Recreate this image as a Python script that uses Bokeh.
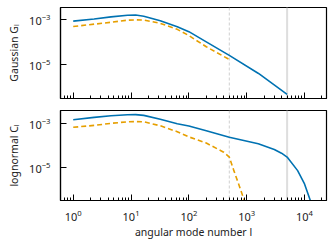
from bokeh.plotting import figure
from bokeh.layouts import column
from bokeh.models import Span, FixedTicker, LogTicker, Range1d, CustomJSTickFormatter
from bokeh.embed import file_html
from bokeh.resources import INLINE

# angular mode numbers and spectra
l_gauss_g = [1, 2.3, 4.5, 8.7, 12, 16.6, 32, 63, 100, 200, 500, 1600, 5000]
gauss_g = [8.9e-4, 1.11e-3, 1.38e-3, 1.62e-3, 1.66e-3, 1.48e-3, 9.3e-4, 5.0e-4,
           3.0e-4, 1.05e-4, 2.6e-5, 4.0e-6, 4.6e-7]
l_gauss_o = [1, 2.3, 4.5, 8.7, 12, 16.6, 32, 63, 100, 200, 500]
gauss_o = [5.1e-4, 6.5e-4, 7.9e-4, 9.8e-4, 1.01e-3, 1.0e-3, 7.1e-4, 3.8e-4,
           2.0e-4, 6.3e-5, 1.7e-5]

l_logn_b = [1, 2.3, 4.5, 8.7, 12, 16.6, 32, 63, 100, 200, 500, 1585, 3000,
            4000, 5000, 7600, 10000, 12600, 14000]
logn_b = [1.41e-3, 1.82e-3, 2.14e-3, 2.4e-3, 2.42e-3, 2.24e-3, 1.51e-3, 9.3e-4,
          7.4e-4, 4.5e-4, 2.3e-4, 1.17e-4, 6.5e-5, 4.4e-5, 2.95e-5, 7.2e-6,
          1.8e-6, 3.2e-7, 5e-8]
l_logn_o = [1, 2.3, 4.5, 8.7, 12, 16.6, 32, 63, 100, 200, 400, 500, 600, 740,
            910, 1000]
logn_o = [6.5e-4, 7.9e-4, 9.8e-4, 1.15e-3, 1.17e-3, 1.15e-3, 7.6e-4, 4.1e-4,
          2.4e-4, 1.26e-4, 4.9e-5, 2.95e-5, 7.2e-6, 1.55e-6, 3.2e-7, 1.3e-7]

l_cut_dashed = 500
l_cut_solid = 5000
y_ticks = [1e-5, 1e-3]
x_label = "angular mode number l"
y_label_top = "Gaussian G\u2097"
y_label_bot = "lognormal C\u2097"

BLUE = "#0072B2"
ORANGE = "#E69F00"
FONT = "Noto Sans"
TXT = "#222222"

x_range = Range1d(10 ** -0.22, 10 ** 4.38)


def make_fig(height, ylo, yhi, ylabel, show_xlabels, mt, mb):
    p = figure(width=328, height=height, x_axis_type="log", y_axis_type="log",
               x_range=x_range, y_range=Range1d(ylo, yhi),
               output_backend="svg", toolbar_location=None,
               min_border_left=60, min_border_right=2, min_border_top=mt,
               min_border_bottom=mb)
    p.grid.visible = False
    p.outline_line_color = "black"
    p.outline_line_width = 1.2
    p.background_fill_color = "white"
    p.border_fill_color = "white"
    for ax in (p.xaxis[0], p.yaxis[0]):
        ax.axis_line_color = "black"
        ax.axis_line_width = 1.2
        ax.major_tick_line_color = "black"
        ax.minor_tick_line_color = "black"
        ax.major_tick_in = 6
        ax.major_tick_out = 0
        ax.minor_tick_in = 3
        ax.minor_tick_out = 0
        ax.major_label_text_font = FONT
        ax.major_label_text_color = TXT
        ax.axis_label_text_font = FONT
        ax.axis_label_text_color = TXT
        ax.axis_label_text_font_style = "normal"
        ax.axis_label_text_font_size = "10.5px"
    p.yaxis[0].ticker = FixedTicker(ticks=y_ticks, minor_ticks=[])
    p.yaxis[0].major_label_text_font_size = "11px"
    p.yaxis[0].major_label_standoff = 10
    p.yaxis[0].axis_label = ylabel
    p.yaxis[0].axis_label_standoff = 5
    p.xaxis[0].ticker = LogTicker(num_minor_ticks=10)
    if show_xlabels:
        p.xaxis[0].major_label_text_font_size = "11px"
        p.xaxis[0].major_label_standoff = 9
        p.xaxis[0].axis_label = x_label
        p.xaxis[0].axis_label_standoff = 1
    else:
        p.xaxis[0].formatter = CustomJSTickFormatter(code="return ''")
        p.xaxis[0].major_label_standoff = 0
    p.add_layout(Span(location=l_cut_dashed, dimension="height", level="underlay",
                      line_color="#cfcfcf", line_width=1, line_dash="3 2"))
    p.add_layout(Span(location=l_cut_solid, dimension="height", level="underlay",
                      line_color="#dedede", line_width=2))
    return p


p1 = make_fig(110, 10 ** -6.52, 10 ** -2.44, y_label_top, False, 7, 12)
p1.line(l_gauss_g, gauss_g, line_color=BLUE, line_width=1.6)
p1.line(l_gauss_o, gauss_o, line_color=ORANGE, line_width=1.6, line_dash="5 3")

p2 = make_fig(138, 10 ** -6.49, 10 ** -2.43, y_label_bot, True, 0, 48)
p2.line(l_logn_b, logn_b, line_color=BLUE, line_width=1.6)
p2.line(l_logn_o, logn_o, line_color=ORANGE, line_width=1.6, line_dash="5 3")

layout = column(p1, p2, spacing=0)
open("out.html", "w").write(file_html(layout, INLINE))
